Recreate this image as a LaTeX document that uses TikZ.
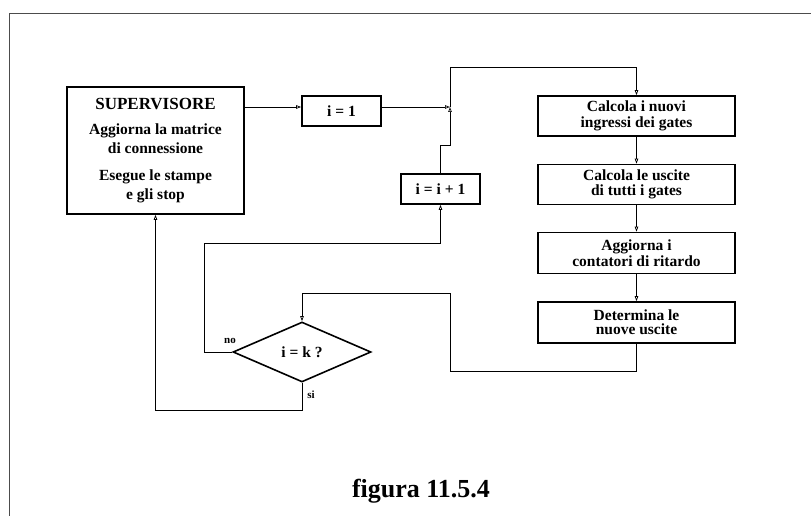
\documentclass[tikz,border=0pt]{standalone}
\usepackage{fontspec}
\setmainfont{Liberation Serif}
\usetikzlibrary{shapes.geometric,arrows.meta}
\tikzset{
  blocco/.style={draw, line width=1.6pt, align=center, inner sep=0pt,
    font=\bfseries\fontsize{15.5}{15.5}\selectfont},
  rombo/.style={draw, diamond, aspect=2.3, line width=1.6pt, inner sep=0pt,
    minimum width=138pt, minimum height=60pt,
    font=\bfseries\fontsize{15.5}{15.5}\selectfont},
  freccia/.style={line width=0.7pt, -{Triangle[open,length=5pt,width=3.5pt]}},
  etichetta/.style={font=\bfseries\fontsize{11}{11}\selectfont, inner sep=0pt},
}
\begin{document}
\begin{tikzpicture}[x=1pt,y=-1pt]
     \useasboundingbox (0,0) rectangle (811,516);
     \draw[line width=0.8pt, black!70] (9,516) -- (9,13) -- (811,13);

     \node[blocco, minimum width=177pt, minimum height=127pt,
       font=\bfseries\fontsize{15.5}{18.5}\selectfont] (sup) at (155.5,150.5)
       {{\fontsize{17}{17}\selectfont SUPERVISORE}\\[7pt]
        Aggiorna la matrice\\
        di connessione\\[9pt]
        Esegue le stampe\\
        e gli stop};
     \node[blocco, minimum width=79pt, minimum height=30pt] (uno) at (341.5,111) {i = 1};
     \node[blocco, minimum width=79pt, minimum height=30pt] (inc) at (440.5,189) {i = i + 1};

     \node[blocco, minimum width=197pt, minimum height=40pt] (calc1) at (636.5,116)
       {Calcola i nuovi\\ingressi dei gates};
     \node[blocco, minimum width=197pt, minimum height=40pt] (calc2) at (636.5,184.5)
       {Calcola le uscite\\di tutti i gates};
     \node[blocco, minimum width=197pt, minimum height=41pt] (agg) at (636.5,253)
       {Aggiorna i\\contatori di ritardo};
     \node[blocco, minimum width=197pt, minimum height=41pt,
       font=\bfseries\fontsize{15.5}{14}\selectfont] (det) at (636.5,322.5)
       {Determina le\\nuove uscite};

     \node[rombo] (test) at (302,352) {i = k ?};
     \node[etichetta] (no) at (230,341) {no};
     \node[etichetta] (si) at (311,395) {si};

     \coordinate (giunto) at (450,107);
     \coordinate (alto) at (450,67);
     \coordinate (gomito) at (450,145);
     \coordinate (basso) at (450,371);
     \coordinate (ritorno) at (450,293);
     \coordinate (sinistra) at (204,243);
     \coordinate (fondo) at (0,410);

     \draw[freccia] (sup.east |- giunto) -- (uno.west |- giunto);
     \draw[freccia] (uno.east |- giunto) -- (giunto);
     \draw[freccia] (giunto) -- (alto) -| (calc1.north);
     \draw[freccia] (calc1) -- (calc2);
     \draw[freccia] (calc2) -- (agg);
     \draw[freccia] (agg) -- (det);
     \draw[freccia] (det.south) |- (basso) -- (ritorno) -| (test.north);
     \draw[freccia] (test.west) -| (sinistra) -| (inc.south);
     \draw[freccia] (inc.north) |- (gomito) -- (giunto);
     \draw[freccia] (test.south) |- (sup.south |- fondo) -- (sup.south);

     \node[font=\bfseries\fontsize{26}{26}\selectfont, inner sep=0pt] (titolo) at (421,491) {figura 11.5.4};
\end{tikzpicture}
\end{document}
